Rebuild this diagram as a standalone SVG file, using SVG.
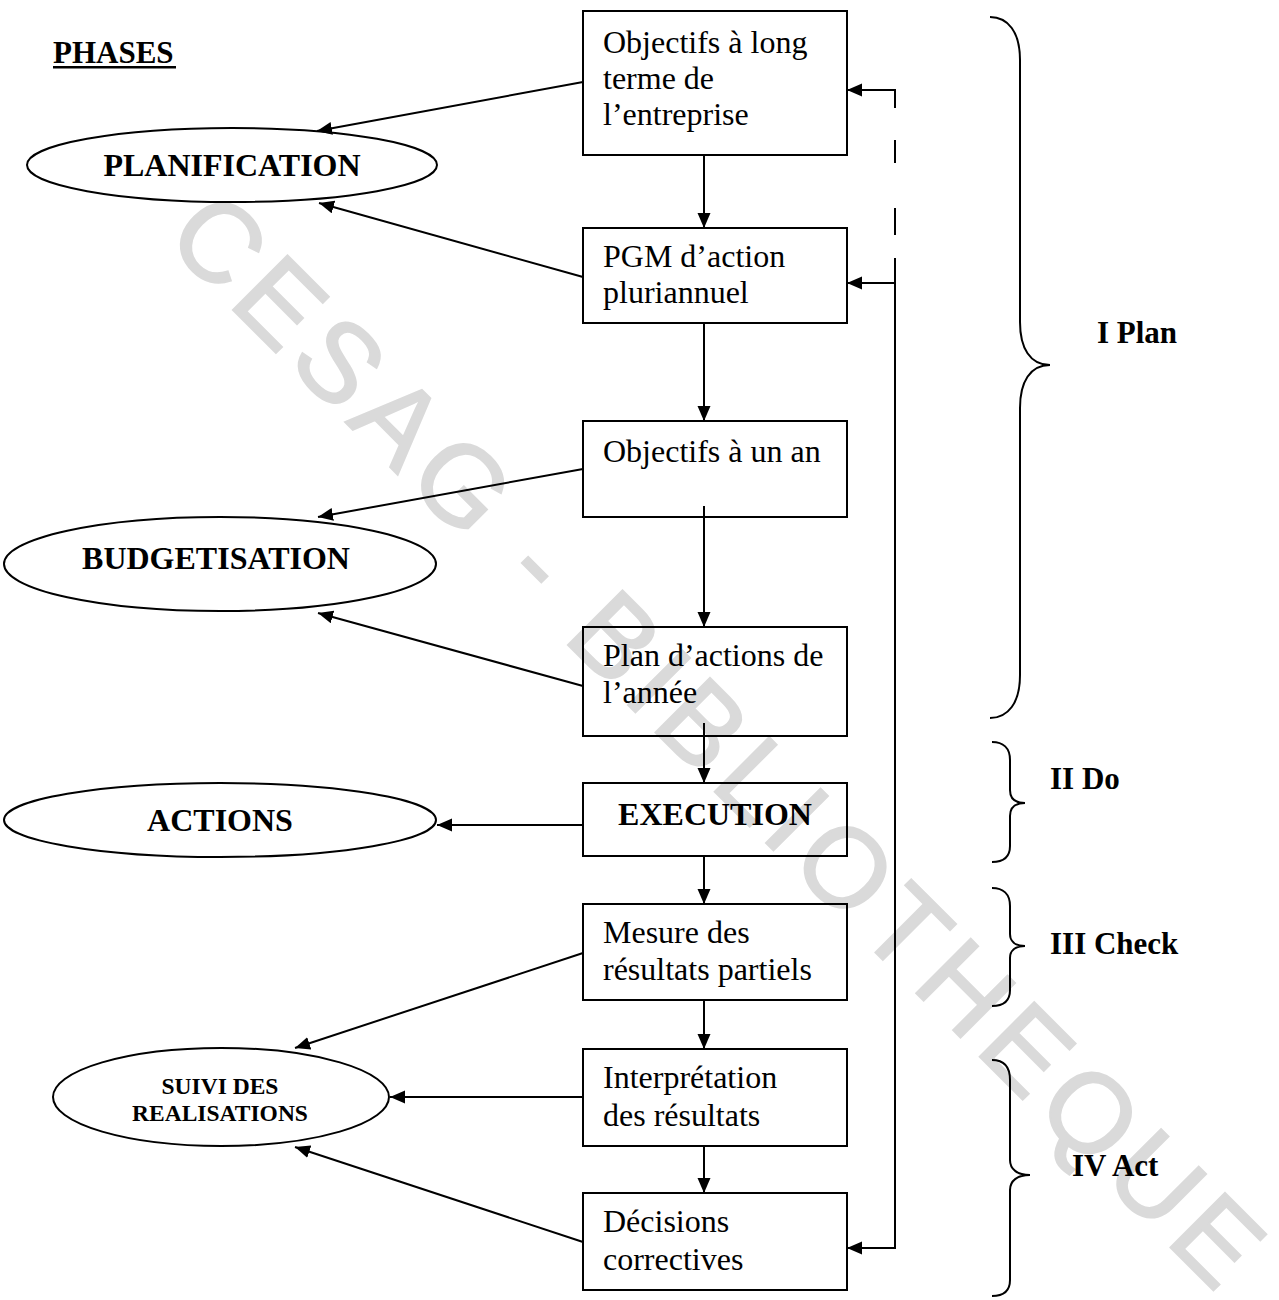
<svg xmlns="http://www.w3.org/2000/svg" width="1279" height="1300" viewBox="0 0 1279 1300">
  <style>
    .box { fill: none; stroke: #000; stroke-width: 2; }
    .oval { fill: none; stroke: #000; stroke-width: 2; }
    .txt { font-family: "Liberation Serif", "Times New Roman", serif; font-size: 32px; fill: #000; }
    .bold { font-family: "Liberation Serif", "Times New Roman", serif; font-weight: bold; font-size: 32px; fill: #000; }
    .mid { text-anchor: middle; }
    .conn { fill: none; stroke: #000; stroke-width: 2; }
    .arr { marker-end: url(#head); }
    .brace { fill: none; stroke: #000; stroke-width: 2; }
    .mark { font-family: "Liberation Sans", Arial, sans-serif; font-size: 112px; fill: #dadada; stroke: #dadada; stroke-width: 2; }
  </style>
  <defs>
    <marker id="head" markerWidth="16" markerHeight="14" refX="15" refY="6.5" orient="auto" markerUnits="userSpaceOnUse">
      <path d="M0,0 L15,6.5 L0,13 z" fill="#000"/>
    </marker>
  </defs>

  <rect width="1279" height="1300" fill="#fff"/>

  <!-- library stamp running diagonally across the sheet -->
  <text class="mark" x="163" y="240" letter-spacing="9" transform="rotate(45 163 240)">CESAG - BIBLIOTHEQUE</text>

  <!-- heading -->
  <g id="heading">
    <text class="bold" x="53" y="63" style="font-size:31px">PHASES</text>
    <rect x="53" y="66" width="123" height="2.5" fill="#000"/>
  </g>

  <!-- phase ovals -->
  <g id="planification">
    <ellipse class="oval" cx="232" cy="165" rx="205" ry="37"/>
    <text class="bold mid" x="232" y="176">PLANIFICATION</text>
  </g>
  <g id="budgetisation">
    <ellipse class="oval" cx="220" cy="564" rx="216" ry="47"/>
    <text class="bold mid" x="216" y="569">BUDGETISATION</text>
  </g>
  <g id="actions">
    <ellipse class="oval" cx="220" cy="820" rx="216" ry="37"/>
    <text class="bold mid" x="220" y="831">ACTIONS</text>
  </g>
  <g id="suivi">
    <ellipse class="oval" cx="221" cy="1097" rx="168" ry="49"/>
    <text class="bold mid" x="220" y="1094" style="font-size:23.5px">SUIVI DES</text>
    <text class="bold mid" x="220" y="1121" style="font-size:23.5px">REALISATIONS</text>
  </g>

  <!-- process steps -->
  <g id="obj-long-terme">
    <rect class="box" x="583" y="11" width="264" height="144"/>
    <text class="txt" x="603" y="53">Objectifs à long</text>
    <text class="txt" x="603" y="89">terme de</text>
    <text class="txt" x="603" y="125">l’entreprise</text>
  </g>
  <g id="pgm-action">
    <rect class="box" x="583" y="228" width="264" height="95"/>
    <text class="txt" x="603" y="267">PGM d’action</text>
    <text class="txt" x="603" y="303">pluriannuel</text>
  </g>
  <g id="obj-un-an">
    <rect class="box" x="583" y="421" width="264" height="96"/>
    <text class="txt" x="603" y="462">Objectifs à un an</text>
  </g>
  <g id="plan-actions">
    <rect class="box" x="583" y="627" width="264" height="109"/>
    <text class="txt" x="603" y="666">Plan d’actions de</text>
    <text class="txt" x="603" y="703">l’année</text>
  </g>
  <g id="execution">
    <rect class="box" x="583" y="783" width="264" height="73"/>
    <text class="bold mid" x="715" y="825">EXECUTION</text>
  </g>
  <g id="mesure">
    <rect class="box" x="583" y="904" width="264" height="96"/>
    <text class="txt" x="603" y="943">Mesure des</text>
    <text class="txt" x="603" y="980">résultats partiels</text>
  </g>
  <g id="interpretation">
    <rect class="box" x="583" y="1049" width="264" height="97"/>
    <text class="txt" x="603" y="1088">Interprétation</text>
    <text class="txt" x="603" y="1126">des résultats</text>
  </g>
  <g id="decisions">
    <rect class="box" x="583" y="1193" width="264" height="97"/>
    <text class="txt" x="603" y="1232">Décisions</text>
    <text class="txt" x="603" y="1270">correctives</text>
  </g>

  <!-- PDCA brackets -->
  <g id="plan-phase">
    <path class="brace" d="M990,17 C1008,17 1020,32 1020,60 V322 C1020,348 1030,365 1050,365 C1030,365 1020,382 1020,408 V675 C1020,703 1008,718 990,718"/>
    <text class="bold" x="1097" y="343" style="font-size:31px">I Plan</text>
  </g>
  <g id="do-phase">
    <path class="brace" d="M992,742 C1003,742 1010,748 1010,760 V790 C1010,798 1015,803 1025,803 C1015,803 1010,808 1010,816 V846 C1010,857 1003,862 992,862"/>
    <text class="bold" x="1050" y="789" style="font-size:31px">II Do</text>
  </g>
  <g id="check-phase">
    <path class="brace" d="M992,888 C1003,888 1010,894 1010,906 V934 C1010,941 1015,946 1025,946 C1015,946 1010,951 1010,958 V990 C1010,1001 1003,1006 992,1006"/>
    <text class="bold" x="1050" y="954" style="font-size:31px">III Check</text>
  </g>
  <g id="act-phase">
    <path class="brace" d="M992,1060 C1003,1060 1010,1066 1010,1080 V1160 C1010,1169 1017,1175 1030,1175 C1017,1175 1010,1181 1010,1190 V1280 C1010,1291 1003,1296 992,1296"/>
    <text class="bold" x="1072" y="1176" style="font-size:31px">IV Act</text>
  </g>

  <!-- connectors -->
  <g id="connectors">
    <!-- main vertical chain -->
    <line class="conn arr" x1="704" y1="155" x2="704" y2="228"/>
    <line class="conn arr" x1="704" y1="323" x2="704" y2="421"/>
    <line class="conn arr" x1="704" y1="506" x2="704" y2="627"/>
    <line class="conn arr" x1="704" y1="723" x2="704" y2="783"/>
    <line class="conn arr" x1="704" y1="856" x2="704" y2="904"/>
    <line class="conn arr" x1="704" y1="1000" x2="704" y2="1049"/>
    <line class="conn arr" x1="704" y1="1146" x2="704" y2="1193"/>

    <!-- steps to phases -->
    <line class="conn arr" x1="583" y1="82" x2="317" y2="131"/>
    <line class="conn arr" x1="583" y1="277" x2="319" y2="203"/>
    <line class="conn arr" x1="583" y1="469" x2="318" y2="517"/>
    <line class="conn arr" x1="583" y1="686" x2="318" y2="613"/>
    <line class="conn arr" x1="583" y1="825" x2="437" y2="825"/>
    <line class="conn arr" x1="583" y1="953" x2="295" y2="1048"/>
    <line class="conn arr" x1="583" y1="1097" x2="390" y2="1097"/>
    <line class="conn arr" x1="583" y1="1242" x2="295" y2="1147"/>

    <!-- feedback loop -->
    <line class="conn arr" x1="896" y1="1248" x2="847" y2="1248"/>
    <line class="conn" x1="895" y1="1249" x2="895" y2="258"/>
    <line class="conn arr" x1="896" y1="283" x2="847" y2="283"/>
    <line class="conn" x1="895" y1="235" x2="895" y2="208"/>
    <line class="conn" x1="895" y1="163" x2="895" y2="140"/>
    <line class="conn" x1="895" y1="108" x2="895" y2="89"/>
    <line class="conn arr" x1="896" y1="90" x2="847" y2="90"/>
  </g>
</svg>
